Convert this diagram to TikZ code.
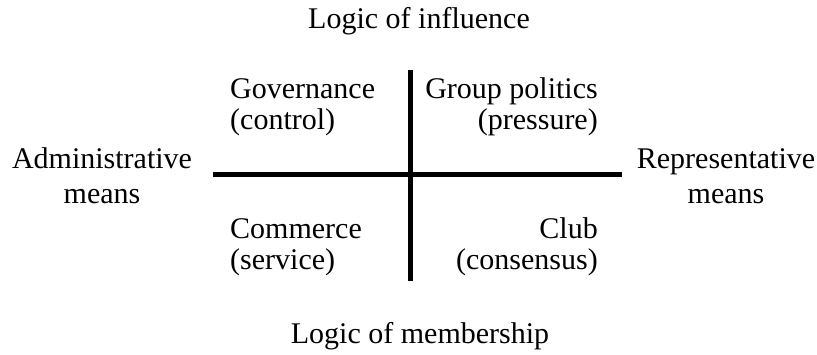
\documentclass[tikz,border=0pt]{standalone}
\usepackage{fontspec}
\setmainfont{Liberation Serif}
\usetikzlibrary{positioning}

\tikzset{
  axis/.style={line width=5pt},
  lbl/.style={inner sep=0pt, font=\fontsize{30}{31}\selectfont},
}

\begin{document}
\begin{tikzpicture}[x=1pt, y=-1pt]
    \useasboundingbox (0,0) rectangle (817,354);
    \coordinate (W) at (213,174);
    \coordinate (E) at (622,174);
    \coordinate (N) at (410,70);
    \coordinate (S) at (410,281);
    \draw [axis] (W) -- (E);
    \draw [axis] (N) -- (S);
    % axis labels
    \node[lbl, anchor=base] (influence) at (419,28) {Logic of influence};
    \node[lbl, anchor=base] (membership) at (420,343) {Logic of membership};
    \node[lbl, align=center, anchor=base] (admin) at (102,203) {Administrative\\[4pt]means};
    \node[lbl, align=center, anchor=base] (repr) at (726,203) {Representative\\[4pt]means};
    % quadrants
    \node[lbl, align=left, anchor=base west] (gov) at (230,129) {Governance\\(control)};
    \node[lbl, align=right, anchor=base east] (group) at (598,129) {Group politics\\(pressure)};
    \node[lbl, align=left, anchor=base west] (comm) at (230,269) {Commerce\\(service)};
    \node[lbl, align=right, anchor=base east] (club) at (598,269) {Club\\(consensus)};
\end{tikzpicture}
\end{document}
